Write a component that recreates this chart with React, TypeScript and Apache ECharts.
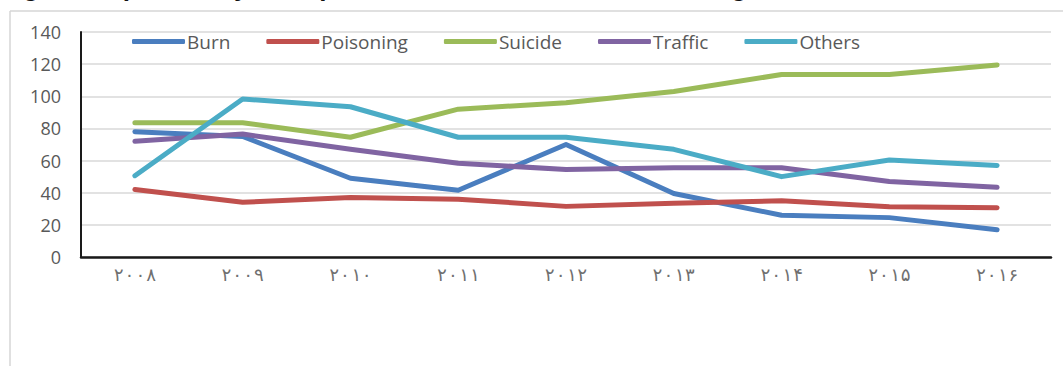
import React, { useEffect, useRef } from "react";
import * as echarts from "echarts";

const years = ["۲۰۰۸", "۲۰۰۹", "۲۰۱۰", "۲۰۱۱", "۲۰۱۲", "۲۰۱۳", "۲۰۱۴", "۲۰۱۵", "۲۰۱۶"];
const burn = [78, 75, 49, 41.5, 70, 39.5, 26, 24.5, 17];
const poisoning = [42, 34, 37, 36, 31.5, 33.5, 35, 31.3, 30.7];
const suicide = [83.5, 83.5, 74.5, 92, 96, 103, 113.5, 113.5, 119.5];
const traffic = [72, 76.5, 67, 58.3, 54.5, 55.5, 55.5, 47, 43.4];
const others = [50.6, 98.3, 93.5, 74.5, 74.5, 67, 50, 60.4, 57];
const yTicks = { min: 0, max: 140, interval: 20 };
const titleText = "Figure 1-a) Mortality ratio per 10,000 accidents in Iran during the 2008-2016";

const names = ["Burn", "Poisoning", "Suicide", "Traffic", "Others"];
const seriesData = [burn, poisoning, suicide, traffic, others];
const colors = ["#4a7ebf", "#c0504d", "#9bbb59", "#8064a2", "#4bacc6"];

export default function App() {
  const ref = useRef<HTMLDivElement>(null);
  useEffect(() => {
    if (!ref.current) return;
    const chart = echarts.init(ref.current, null, { renderer: "svg" });
    chart.setOption({
      animation: false,
      backgroundColor: "#ffffff",
      textStyle: { fontFamily: "Open Sans" },
      grid: { left: 81, right: 12, top: 32, bottom: 109, containLabel: false },
      legend: {
        data: names,
        left: 127,
        top: 27,
        icon: "roundRect",
        itemWidth: 53,
        itemHeight: 5,
        itemGap: 36,
        textStyle: { fontSize: 19, color: "#595959", fontFamily: "Open Sans", padding: [0, 0, 0, -3] },
      },
      xAxis: {
        type: "category",
        data: years,
        boundaryGap: true,
        axisLine: { show: true, lineStyle: { color: "#1a1a1a", width: 2.5 } },
        axisTick: { show: false },
        axisLabel: { color: "#707070", fontSize: 18, margin: 8, fontFamily: "DejaVu Sans Mono" },
        splitLine: { show: false },
      },
      yAxis: {
        type: "value",
        min: yTicks.min,
        max: yTicks.max,
        interval: yTicks.interval,
        axisLine: { show: true, lineStyle: { color: "#1a1a1a", width: 2 } },
        axisTick: { show: false },
        axisLabel: { color: "#595959", fontSize: 18, margin: 20, fontFamily: "Open Sans" },
        splitLine: { show: true, lineStyle: { color: "#d9d9d9", width: 1.5 } },
      },
      graphic: [
        { type: "line", shape: { x1: 10, y1: 11, x2: 10, y2: 366 }, style: { stroke: "#d6d6d6", lineWidth: 1.5 } },
        { type: "line", shape: { x1: 10, y1: 11, x2: 1063, y2: 11 }, style: { stroke: "#d6d6d6", lineWidth: 1.5 } },
        {
          type: "text",
          left: 0,
          top: -26,
          style: { text: titleText, font: "bold 26px 'Liberation Sans'", fill: "#111" },
        },
      ],
      series: names.map((n, i) => ({
        name: n,
        type: "line",
        data: seriesData[i],
        symbol: "none",
        color: colors[i],
        lineStyle: { width: 5, color: colors[i], cap: "round", join: "round" },
      })),
    });
    return () => chart.dispose();
  }, []);
  return (
    <div
      ref={ref}
      style={{ position: "absolute", left: 0, top: 0, width: 1063, height: 366 }}
    />
  );
}
